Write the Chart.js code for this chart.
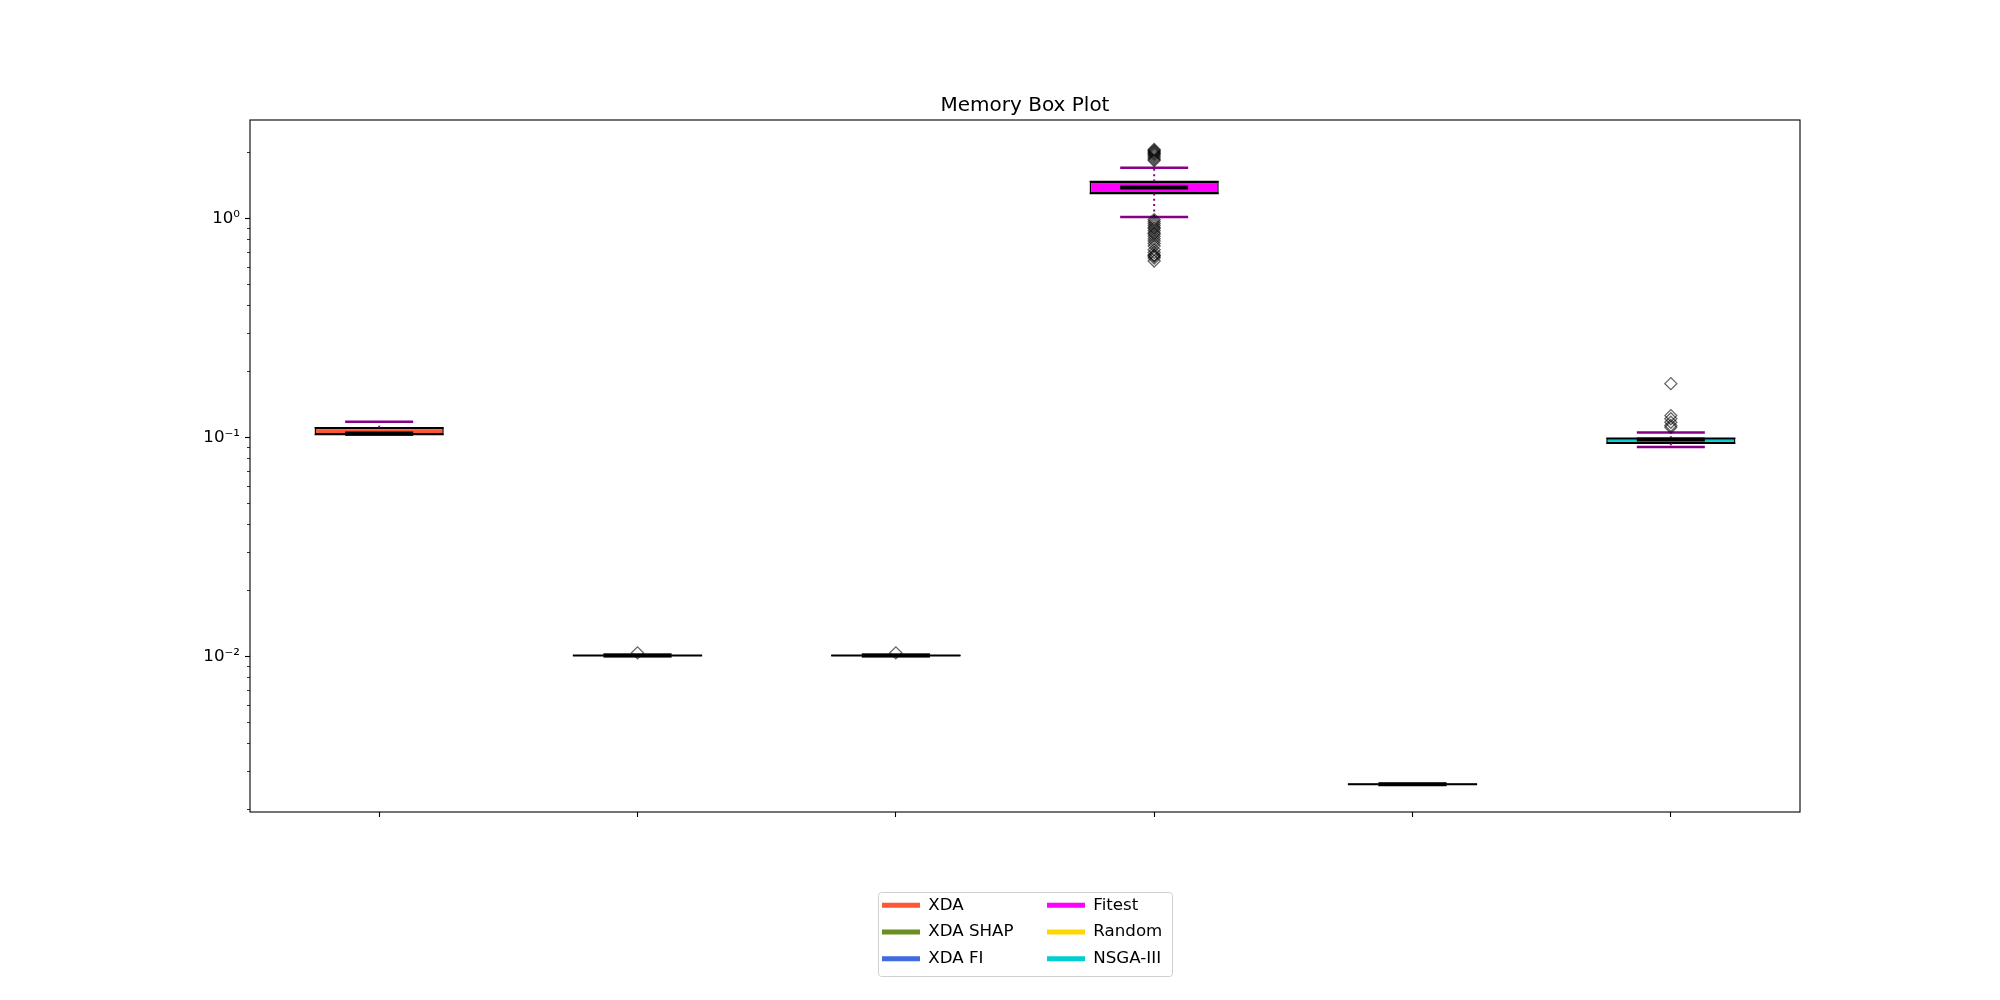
<!DOCTYPE html>
<html><head><meta charset="utf-8">
<script src="https://cdn.jsdelivr.net/npm/chart.js@4.4.1/dist/chart.umd.min.js"></script>
<style>html,body{margin:0;padding:0;background:#fff;}#c{display:block;}</style>
</head><body>
<canvas id="c" width="2000" height="1000" style="width:2000px;height:1000px"></canvas>
<script>
// ---- data ----
const categories = ['XDA', 'XDA SHAP', 'XDA FI', 'Fitest', 'Random', 'NSGA-III'];
const boxColors = ['#FF5733', '#6B8E23', '#4169E1', '#FF00FF', '#FFD700', '#00CED1'];
const whiskerLow  = [0.1030, 0.01005, 0.01005, 1.018, 0.00260, 0.0906];
const q1          = [0.1032, 0.01008, 0.01008, 1.302, 0.002605, 0.0941];
const median      = [0.1043, 0.01010, 0.01010, 1.387, 0.00261, 0.0979];
const q3          = [0.1109, 0.01013, 0.01013, 1.478, 0.002615, 0.0993];
const whiskerHigh = [0.1182, 0.01020, 0.01020, 1.708, 0.00262, 0.1054];
const outliersXDA = [];
const outliersSHAP = [0.0104];
const outliersFI = [0.0104];
const outliersFitest = [2.07, 2.05, 2.03, 2.01, 1.99, 1.97, 1.95, 1.92, 1.89, 1.86, 1.84,
  0.99, 0.97, 0.95, 0.93, 0.91, 0.90, 0.88, 0.86, 0.85, 0.83, 0.81, 0.79, 0.77, 0.75,
  0.72, 0.70, 0.68, 0.68, 0.67, 0.66, 0.64];
const outliersRandom = [];
const outliersNSGA = [0.1763, 0.126, 0.1219, 0.1175, 0.1135, 0.1114];
const outlierSets = [outliersXDA, outliersSHAP, outliersFI, outliersFitest, outliersRandom, outliersNSGA];
const yMin = 0.00195, yMax = 2.82;
const yTickValues = [0.002, 0.003, 0.004, 0.005, 0.006, 0.007, 0.008, 0.009,
  0.01, 0.02, 0.03, 0.04, 0.05, 0.06, 0.07, 0.08, 0.09,
  0.1, 0.2, 0.3, 0.4, 0.5, 0.6, 0.7, 0.8, 0.9, 1, 2];
const yMajorValues = [0.01, 0.1, 1];
const yMajorLabels = ['10\u207B\u00B2', '10\u207B\u00B9', '10\u2070'];
const titleText = 'Memory Box Plot';

// ---- styles ----
const WHISKER = '#880088';
const FONT = 'DejaVu Sans';
Chart.defaults.font.family = FONT;
Chart.defaults.color = '#000';

function majorIndex(v) {
  return yMajorValues.findIndex(m => Math.abs(Math.log10(v) - Math.log10(m)) < 1e-9);
}

const whiskerPts = [];
categories.forEach((c, i) => {
  whiskerPts.push({x: c, y: q3[i]}, {x: c, y: whiskerHigh[i]}, {x: c, y: null},
                  {x: c, y: q1[i]}, {x: c, y: whiskerLow[i]}, {x: c, y: null});
});
const capPts = [];
categories.forEach((c, i) => { capPts.push({x: c, y: whiskerHigh[i]}, {x: c, y: whiskerLow[i]}); });
const edgePts = [];
categories.forEach((c, i) => { edgePts.push({x: c, y: q1[i]}, {x: c, y: q3[i]}); });
const medianPts = categories.map((c, i) => ({x: c, y: median[i]}));
const outlierPts = [];
categories.forEach((c, i) => outlierSets[i].forEach(v => outlierPts.push({x: c, y: v})));

const layoutPlugin = {
  id: 'layoutHelpers',
  beforeLayout(chart) {
    const lg = chart.legend;
    if (!lg || lg._colPatched) return;
    lg._colPatched = true;
    const origFit = lg.fit;
    lg.fit = function () {
      const saved = this.maxHeight;
      this.maxHeight = 100;
      origFit.call(this);
      this.maxHeight = saved;
      if (this.columnSizes && this.columnSizes.length > 1) this.columnSizes[0].width = 155;
      this.width = 0;
      this.height = 100;
    };
  },
  afterLayout(chart) {
    const lg = chart.legend, a = chart.chartArea;
    const cx = (a.left + a.right) / 2;
    lg.left = cx - 153; lg.right = cx + 153; lg.width = 306;
    lg.top = a.bottom + 70; lg.bottom = lg.top + 100; lg.height = 100;
    const t = chart.titleBlock;
    if (t) { t.left = a.left; t.right = a.right; t.width = a.right - a.left; }
  },
  beforeDraw(chart) {
    const lg = chart.legend, ctx = chart.ctx;
    const x = lg.left + 6, y = lg.top + 10, w = lg.right - lg.left - 12, h = 84;
    ctx.save();
    ctx.beginPath();
    ctx.roundRect(x + 0.5, y + 0.5, w, h, 3);
    ctx.fillStyle = '#fff';
    ctx.fill();
    ctx.strokeStyle = 'rgba(204,204,204,0.9)';
    ctx.lineWidth = 1;
    ctx.stroke();
    ctx.restore();
  },
  afterDraw(chart) {
    const {ctx, chartArea: a} = chart;
    ctx.save();
    ctx.strokeStyle = '#000';
    ctx.lineWidth = 1.1;
    ctx.strokeRect(a.left, a.top, a.right - a.left, a.bottom - a.top);
    ctx.restore();
  }
};

new Chart(document.getElementById('c'), {
  type: 'bar',
  data: {
    labels: categories,
    datasets: [
      {
        type: 'bar', label: 'boxes', order: 6,
        data: categories.map((c, i) => [q1[i], q3[i]]),
        backgroundColor: boxColors, borderColor: '#000', borderWidth: 1.5, borderSkipped: false,
        grouped: false, barPercentage: 0.5, categoryPercentage: 1
      },
      {
        type: 'line', label: 'box edges', order: 5, data: edgePts, showLine: false,
        pointStyle: 'line', pointRadius: 64.6, pointHoverRadius: 64.6,
        pointBorderColor: '#000', pointBorderWidth: 1.5
      },
      {
        type: 'line', label: 'whiskers', order: 4, data: whiskerPts,
        borderColor: WHISKER, borderWidth: 2, borderDash: [2, 3.3], pointRadius: 0,
        spanGaps: false, fill: false
      },
      {
        type: 'line', label: 'caps', order: 3, data: capPts, showLine: false,
        pointStyle: 'line', pointRadius: 34, pointHoverRadius: 34,
        pointBorderColor: WHISKER, pointBorderWidth: 2.5
      },
      {
        type: 'line', label: 'medians', order: 2, data: medianPts, showLine: false,
        pointStyle: 'line', pointRadius: 34, pointHoverRadius: 34,
        pointBorderColor: '#000', pointBorderWidth: 4
      },
      {
        type: 'line', label: 'outliers', order: 1, data: outlierPts, showLine: false,
        pointStyle: 'rectRot', pointRadius: 6, pointHoverRadius: 6,
        pointBackgroundColor: 'rgba(0,0,0,0)', pointBorderColor: 'rgba(0,0,0,0.6)', pointBorderWidth: 1.3
      }
    ]
  },
  options: {
    responsive: false,
    animation: false,
    devicePixelRatio: 1,
    events: [],
    layout: {padding: {left: 0, right: 200, top: 0, bottom: 0}},
    scales: {
      x: {
        type: 'category',
        offset: true,
        grid: {offset: false, drawOnChartArea: false, tickLength: 5, tickColor: '#000', tickWidth: 1.1},
        border: {display: false},
        ticks: {autoSkip: false, callback: () => '', maxRotation: 0},
        afterFit: s => { s.height = 188; }
      },
      y: {
        type: 'logarithmic',
        min: yMin, max: yMax,
        afterBuildTicks: s => { s.ticks = yTickValues.map(v => ({value: v})); },
        grid: {
          drawOnChartArea: false, tickLength: 5, tickColor: '#000',
          tickWidth: c => majorIndex(c.tick.value) >= 0 ? 1.1 : 0.8,
          tickBorderDash: c => majorIndex(c.tick.value) >= 0 ? [] : [0, 2, 3, 20]
        },
        border: {display: false},
        ticks: {
          autoSkip: false, padding: 5, color: '#000',
          font: {size: 16.67, family: FONT},
          callback: v => { const k = majorIndex(v); return k >= 0 ? yMajorLabels[k] : ''; }
        },
        afterFit: s => { s.width = 250; }
      }
    },
    plugins: {
      title: {
        display: true, text: titleText, color: '#000',
        font: {size: 20, weight: 'normal', family: FONT},
        padding: {top: 94, bottom: 2}
      },
      legend: {
        display: true, position: 'right',
        labels: {
          boxWidth: 38, boxHeight: 5, padding: 10,
          font: {size: 16.67, family: FONT}, color: '#000',
          generateLabels: () => categories.map((c, i) => ({
            text: c, fillStyle: boxColors[i], strokeStyle: boxColors[i], lineWidth: 0,
            hidden: false, datasetIndex: 0, fontColor: '#000'
          }))
        }
      },
      tooltip: {enabled: false}
    }
  },
  plugins: [layoutPlugin]
});
</script>
</body></html>
